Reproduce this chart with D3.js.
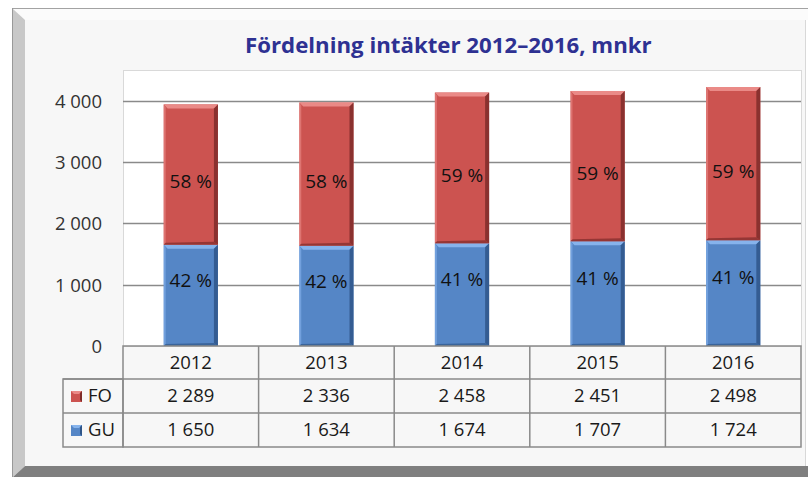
<!DOCTYPE html>
<html>
<head>
<meta charset="utf-8">
<script src="https://cdn.jsdelivr.net/npm/d3@7"></script>
<style>
  body { margin: 0; background: #fff; }
  svg { display: block; font-family: 'Open Sans', sans-serif; }
</style>
</head>
<body>
<svg id="chart" width="808" height="477"></svg>
<script>
const years = ['2012', '2013', '2014', '2015', '2016'];
const foValues = [2289, 2336, 2458, 2451, 2498];
const guValues = [1650, 1634, 1674, 1707, 1724];
const foPct = [58, 58, 59, 59, 59];
const guPct = [42, 42, 41, 41, 41];
const yTicks = [0, 1000, 2000, 3000, 4000];
const seriesKeys = ['GU', 'FO'];
const title = 'Fördelning intäkter 2012–2016, mnkr';

const colors = {
    GU: { main: '#5586c6', light: '#86b3ec', dark: '#2f5588' },
    FO: { main: '#cc5350', light: '#ea8a87', dark: '#7e2b29' },
};

const svg = d3.select('#chart');

const locale = d3.formatLocale({ decimal: ',', thousands: '\u00a0', grouping: [3], currency: ['', ' kr'] });
const fmt = locale.format(',d');

// frame
svg.append('rect').attr('x', 25).attr('y', 20).attr('width', 781).attr('height', 446).attr('fill', '#f7f7f7');
svg.append('polygon').attr('points', '13,9 808,9 808,20 25,20').attr('fill', '#fbfbfb');
svg.append('polygon').attr('points', '13,9 25,20 25,466 13,477').attr('fill', '#c8c8c8');
svg.append('polygon').attr('points', '13,477 25,466 808,466 808,477').attr('fill', '#7f7f7f');
svg.append('line').attr('x1', 12).attr('x2', 808).attr('y1', 8.5).attr('y2', 8.5).attr('stroke', '#a3a3a3');
svg.append('line').attr('x1', 12.5).attr('x2', 12.5).attr('y1', 8).attr('y2', 477).attr('stroke', '#999');
svg.append('line').attr('x1', 805.5).attr('x2', 805.5).attr('y1', 20).attr('y2', 466).attr('stroke', '#d8d8d8');

// title
const titleText = svg.append('text')
    .attr('x', 0)
    .attr('y', 0)
    .style('font-size', '22px')
    .style('font-weight', 'bold')
    .attr('fill', '#2e3192')
    .text(title);
const tLen = titleText.node().getComputedTextLength();
const sx = 407 / tLen;
titleText.attr('transform', `translate(245, 53) scale(${sx}, 1)`);

// plot area
const plot = { left: 123, right: 801, top: 70, bottom: 346 };

svg.append('rect')
    .attr('x', plot.left + 0.5)
    .attr('y', plot.top + 0.5)
    .attr('width', plot.right - plot.left)
    .attr('height', plot.bottom - plot.top)
    .attr('fill', '#fff')
    .attr('stroke', '#d9d9d9');

const x = d3.scaleBand()
    .domain(years)
    .range([plot.left, plot.right])
    .paddingInner(0.6)
    .paddingOuter(0.3);

const col = d3.scaleBand()
    .domain(years)
    .range([plot.left, plot.right]);

const y = d3.scaleLinear()
    .domain([0, 4500])
    .range([plot.bottom, plot.top]);

// gridlines
svg.append('g')
    .selectAll('line')
    .data(yTicks.filter((d) => d > 0))
    .enter()
    .append('line')
    .attr('x1', plot.left)
    .attr('x2', plot.right)
    .attr('y1', (d) => Math.round(y(d)) + 0.5)
    .attr('y2', (d) => Math.round(y(d)) + 0.5)
    .attr('stroke', '#8a8a8a')
    .attr('stroke-width', 1.5);

// y axis labels
const yAxis = svg.append('g')
    .attr('transform', `translate(${plot.left - 21},0)`)
    .call(d3.axisLeft(y).tickValues(yTicks).tickSize(0).tickFormat(fmt));
yAxis.select('.domain').remove();
yAxis.selectAll('text')
    .attr('x', 0)
    .attr('dy', '0.35em')
    .style('font-family', "'Open Sans', sans-serif")
    .style('font-size', '18.5px')
    .attr('fill', '#333');

// bars
const rows = years.map((yr, i) => ({ year: yr, GU: guValues[i], FO: foValues[i], i }));
const stacked = d3.stack().keys(seriesKeys)(rows);

const bw = x.bandwidth();
stacked.forEach((layer) => {
    const c = colors[layer.key];
    const g = svg.append('g');
    layer.forEach((d) => {
        const x0 = x(d.data.year);
        const y0 = y(d[1]);
        const y1 = y(d[0]);
        g.append('rect')
            .attr('x', x0).attr('y', y0).attr('width', bw).attr('height', y1 - y0)
            .attr('fill', c.main);
        // bevel: top
        g.append('polygon')
            .attr('points', `${x0},${y0} ${x0 + bw},${y0} ${x0 + bw - 4},${y0 + 4} ${x0 + 4},${y0 + 4}`)
            .attr('fill', c.light);
        // bevel: right
        g.append('polygon')
            .attr('points', `${x0 + bw},${y0} ${x0 + bw},${y1} ${x0 + bw - 4},${y1 - 3} ${x0 + bw - 4},${y0 + 4}`)
            .attr('fill', c.dark).attr('opacity', 0.85);
        // bevel: left
        g.append('polygon')
            .attr('points', `${x0},${y0} ${x0 + 2},${y0 + 3} ${x0 + 2},${y1 - 2} ${x0},${y1}`)
            .attr('fill', c.light).attr('opacity', 0.6);
        // bevel: bottom
        g.append('polygon')
            .attr('points', `${x0},${y1} ${x0 + bw},${y1} ${x0 + bw - 4},${y1 - 3} ${x0 + 2},${y1 - 2}`)
            .attr('fill', c.dark).attr('opacity', 0.7);
    });
});

// percentage labels
const labelPos = { GU: 0.65, FO: 0.45 };
const pct = { GU: guPct, FO: foPct };
stacked.forEach((layer) => {
    svg.append('g')
        .selectAll('text')
        .data(layer)
        .enter()
        .append('text')
        .attr('x', (d) => x(d.data.year) + bw / 2)
        .attr('y', (d) => y(d[0] + (d[1] - d[0]) * labelPos[layer.key]))
        .attr('dy', '0.35em')
        .attr('text-anchor', 'middle')
        .style('font-size', '19px')
        .attr('fill', '#111')
        .text((d) => pct[layer.key][d.data.i] + ' %');
});

// data table
const rowH = [346, 379, 413, 447];
const lineColor = '#8a8a8a';
const tbl = svg.append('g').attr('stroke', lineColor).attr('stroke-width', 1.5).attr('fill', 'none');
tbl.append('rect').attr('x', plot.left).attr('y', rowH[0]).attr('width', plot.right - plot.left).attr('height', rowH[3] - rowH[0]);
tbl.append('rect').attr('x', 63).attr('y', rowH[1]).attr('width', plot.left - 63).attr('height', rowH[3] - rowH[1]);
tbl.append('line').attr('x1', 63).attr('x2', plot.right).attr('y1', rowH[1]).attr('y2', rowH[1]);
tbl.append('line').attr('x1', 63).attr('x2', plot.right).attr('y1', rowH[2]).attr('y2', rowH[2]);
tbl.selectAll('.vline')
    .data(years.slice(1))
    .enter()
    .append('line')
    .attr('x1', (d) => col(d)).attr('x2', (d) => col(d))
    .attr('y1', rowH[0]).attr('y2', rowH[3]);

const cellText = (g, data, rowIndex) => {
    g.selectAll('text')
        .data(data)
        .enter()
        .append('text')
        .attr('x', (d, i) => col(years[i]) + col.bandwidth() / 2)
        .attr('y', (rowH[rowIndex] + rowH[rowIndex + 1]) / 2)
        .attr('dy', '0.35em')
        .attr('text-anchor', 'middle')
        .style('font-size', '18.5px')
        .attr('fill', '#1a1a1a')
        .text((d) => d);
};

cellText(svg.append('g'), years, 0);
cellText(svg.append('g'), foValues.map(fmt), 1);
cellText(svg.append('g'), guValues.map(fmt), 2);

// legend keys in table
const legendRows = [{ key: 'FO', row: 1 }, { key: 'GU', row: 2 }];
legendRows.forEach((l) => {
    const c = colors[l.key];
    const cy = (rowH[l.row] + rowH[l.row + 1]) / 2;
    const kx = 71;
    const ky = cy - 5;
    svg.append('rect').attr('x', kx).attr('y', ky).attr('width', 11).attr('height', 11).attr('fill', c.main);
    svg.append('polygon')
        .attr('points', `${kx},${ky} ${kx + 11},${ky} ${kx + 8},${ky + 3} ${kx + 3},${ky + 3}`)
        .attr('fill', c.light);
    svg.append('polygon')
        .attr('points', `${kx + 11},${ky} ${kx + 11},${ky + 11} ${kx + 9},${ky + 9} ${kx + 9},${ky + 2}`)
        .attr('fill', c.dark);
    svg.append('text')
        .attr('x', 88)
        .attr('y', cy)
        .attr('dy', '0.35em')
        .style('font-size', '18.5px')
        .attr('fill', '#1a1a1a')
        .text(l.key);
});
</script>
</body>
</html>
